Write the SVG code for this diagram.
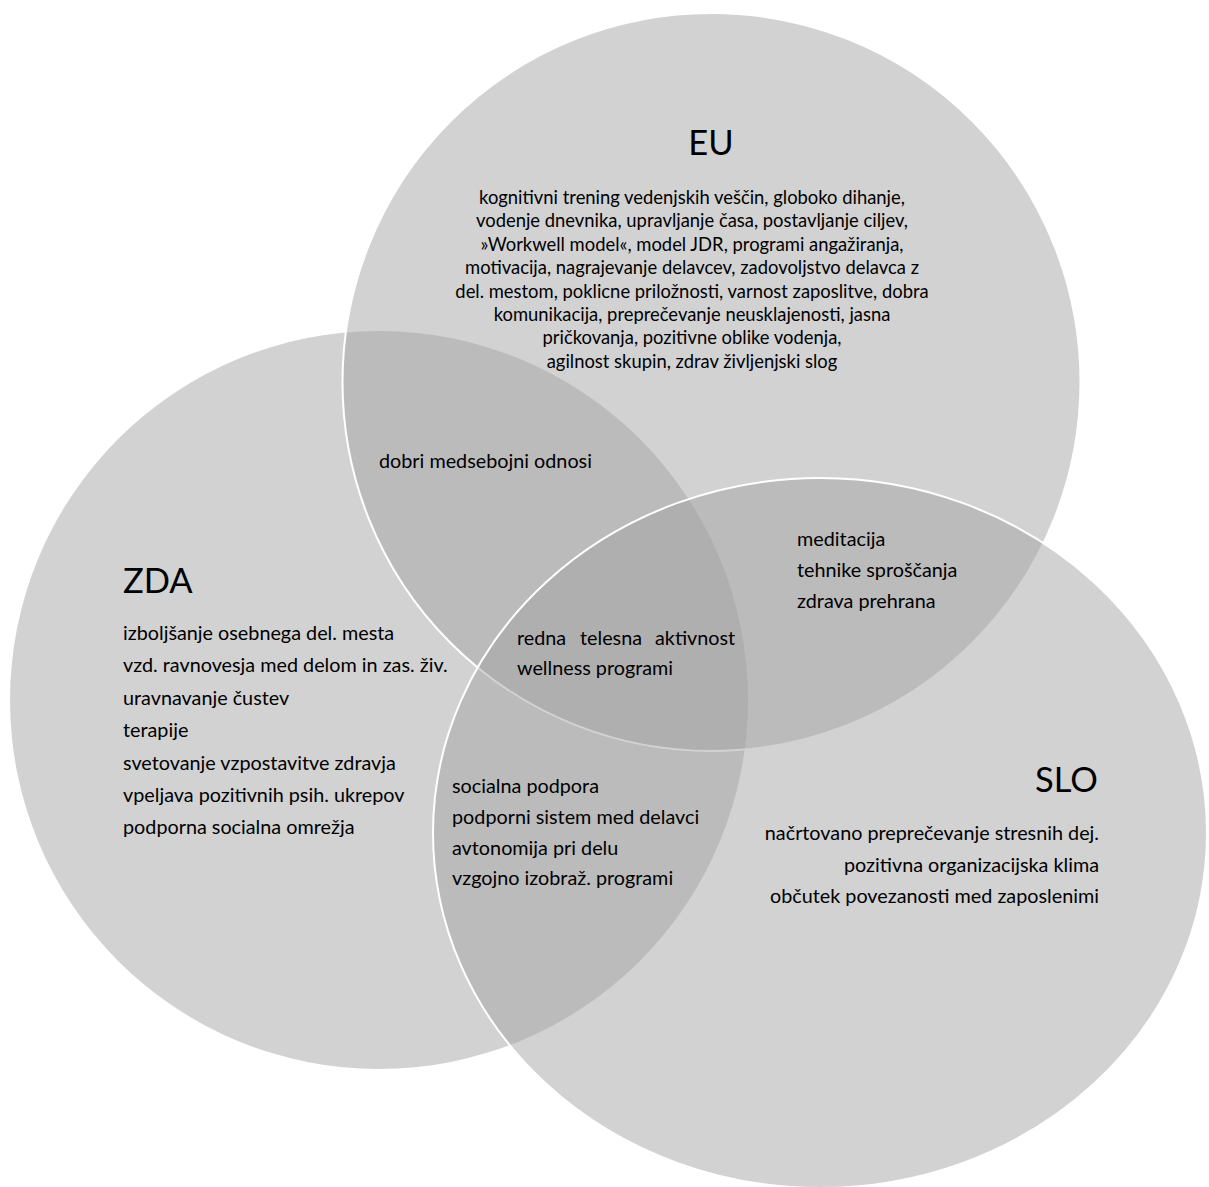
<svg xmlns="http://www.w3.org/2000/svg" width="1209" height="1187" viewBox="0 0 1209 1187">
  <style>
    .set { fill: #a3a3a3; fill-opacity: 0.49; }
    .edge { stroke: #ffffff; stroke-width: 2; }
    text { font-family: Lato, "Liberation Sans", sans-serif; fill: #000000; }
    .title { font-size: 34.5px; }
    .body { font-size: 19.8px; }
    .small { font-size: 18.4px; text-anchor: middle; }
  </style>
  <rect width="1209" height="1187" fill="#ffffff"/>

  <!-- the three sets, drawn bottom to top -->
  <g id="zda">
    <circle class="set" cx="379" cy="700" r="369"/>
  </g>
  <g id="eu">
    <circle class="set edge" cx="711.5" cy="382" r="369"/>
  </g>
  <g id="slo">
    <ellipse class="set edge" cx="820" cy="833" rx="387" ry="355"/>
  </g>

  <!-- labels -->
  <g id="eu-label">
    <text class="title" x="711" y="155" text-anchor="middle">EU</text>
    <text class="small" x="692" y="204">kognitivni trening vedenjskih veščin, globoko dihanje,</text>
    <text class="small" x="692" y="227.4">vodenje dnevnika, upravljanje časa, postavljanje ciljev,</text>
    <text class="small" x="692" y="250.8">»Workwell model«, model JDR, programi angažiranja,</text>
    <text class="small" x="692" y="274.2">motivacija, nagrajevanje delavcev, zadovoljstvo delavca z</text>
    <text class="small" x="692" y="297.6">del. mestom, poklicne priložnosti, varnost zaposlitve, dobra</text>
    <text class="small" x="692" y="321">komunikacija, preprečevanje neusklajenosti, jasna</text>
    <text class="small" x="692" y="344.4">pričkovanja, pozitivne oblike vodenja,</text>
    <text class="small" x="692" y="367.8">agilnost skupin, zdrav življenjski slog</text>
  </g>

  <g id="zda-label">
    <text class="title" x="123" y="593">ZDA</text>
    <text class="body" x="123" y="640">izboljšanje osebnega del. mesta</text>
    <text class="body" x="123" y="672.4">vzd. ravnovesja med delom in zas. živ.</text>
    <text class="body" x="123" y="704.8">uravnavanje čustev</text>
    <text class="body" x="123" y="737.2">terapije</text>
    <text class="body" x="123" y="769.6">svetovanje vzpostavitve zdravja</text>
    <text class="body" x="123" y="802">vpeljava pozitivnih psih. ukrepov</text>
    <text class="body" x="123" y="834.4">podporna socialna omrežja</text>
  </g>

  <g id="slo-label">
    <text class="title" x="1098" y="792" text-anchor="end">SLO</text>
    <text class="body" x="1099" y="840" text-anchor="end">načrtovano preprečevanje stresnih dej.</text>
    <text class="body" x="1099" y="871.5" text-anchor="end">pozitivna organizacijska klima</text>
    <text class="body" x="1099" y="903" text-anchor="end">občutek povezanosti med zaposlenimi</text>
  </g>

  <g id="eu-zda">
    <text class="body" x="379" y="468">dobri medsebojni odnosi</text>
  </g>

  <g id="eu-slo">
    <text class="body" x="797" y="546">meditacija</text>
    <text class="body" x="797" y="577">tehnike sproščanja</text>
    <text class="body" x="797" y="608">zdrava prehrana</text>
  </g>

  <g id="all-three">
    <text class="body" y="645"><tspan x="517">redna</tspan><tspan x="580">telesna</tspan><tspan x="655">aktivnost</tspan></text>
    <text class="body" x="517" y="675">wellness programi</text>
  </g>

  <g id="zda-slo">
    <text class="body" x="452" y="793">socialna podpora</text>
    <text class="body" x="452" y="824">podporni sistem med delavci</text>
    <text class="body" x="452" y="855">avtonomija pri delu</text>
    <text class="body" x="452" y="885">vzgojno izobraž. programi</text>
  </g>

  <!-- plain Venn layout: no connectors -->
  <g id="connectors"/>
</svg>
